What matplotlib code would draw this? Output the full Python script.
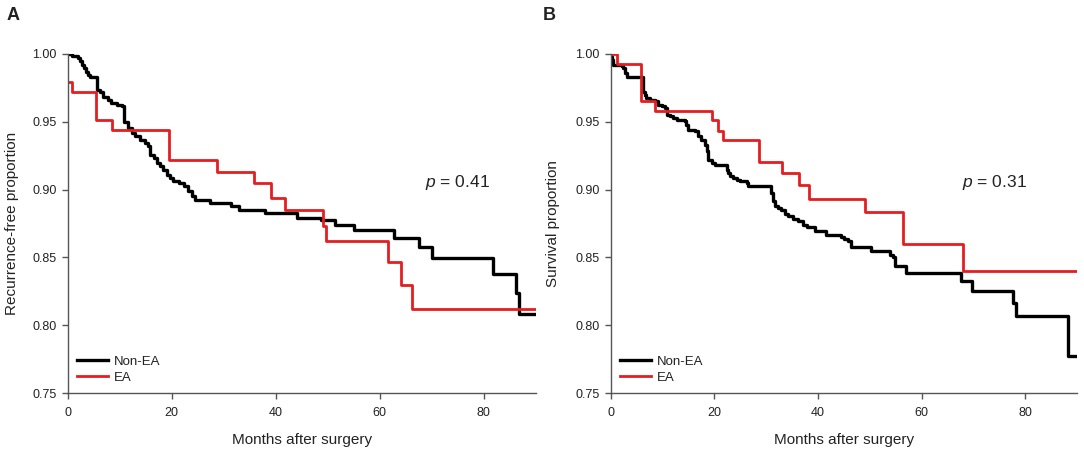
import matplotlib
matplotlib.use("Agg")
import matplotlib.pyplot as plt

plt.rcParams['font.family'] = ['Liberation Sans', 'DejaVu Sans']
plt.rcParams['mathtext.fontset'] = 'custom'
plt.rcParams['mathtext.it'] = 'Liberation Sans:italic'
plt.rcParams['mathtext.rm'] = 'Liberation Sans'

# panel A: recurrence-free
a_ea_t = [0, 0.8, 5.5, 8.5, 19.4, 28.7, 35.8, 39.1, 41.7, 49.0, 49.6, 61.5, 64.1, 66.2, 90]
a_ea_s = [0.979, 0.972, 0.951, 0.944, 0.922, 0.913, 0.905, 0.894, 0.885, 0.873, 0.862,
          0.847, 0.830, 0.812, 0.812]
a_non_t = [0, 0.9, 2.0, 2.4, 2.8, 3.1, 3.6, 3.9, 4.2, 5.7, 6.2, 6.8, 7.8, 8.4, 9.4, 10.4,
           10.9, 11.6, 12.3, 12.9, 13.9, 14.9, 15.5, 15.8, 16.5, 17.1, 17.8, 18.4, 19.1,
           19.7, 20.3, 21.3, 22.3, 23.2, 23.9, 24.5, 26.8, 27.4, 31.3, 32.9, 38.0, 44.1,
           48.6, 51.4, 55.0, 62.7, 67.6, 70.0, 81.8, 86.2, 86.7, 90]
a_non_s = [1.000, 0.9985, 0.9968, 0.995, 0.992, 0.9895, 0.987, 0.9846, 0.9828, 0.9735,
           0.9723, 0.9686, 0.966, 0.9637, 0.9625, 0.9613, 0.950, 0.9454, 0.9417, 0.9392,
           0.9368, 0.9343, 0.932, 0.9257, 0.9233, 0.9196, 0.9171, 0.9147, 0.911, 0.9086,
           0.9061, 0.905, 0.9024, 0.8988, 0.895, 0.8926, 0.892, 0.890, 0.8877, 0.8853,
           0.8829, 0.8792, 0.8775, 0.8743, 0.8706, 0.8645, 0.8576, 0.8498, 0.8382, 0.8235,
           0.8081, 0.8081]

# panel B: survival
b_ea_t = [0, 1.2, 5.8, 8.5, 19.5, 20.7, 21.7, 28.6, 33.0, 36.3, 38.3, 49.0, 56.4, 67.9, 90]
b_ea_s = [1.0, 0.9926, 0.965, 0.958, 0.9515, 0.9434, 0.9363, 0.920, 0.912, 0.9032,
          0.8934, 0.8836, 0.8596, 0.840, 0.840]
b_non_t = [0, 0.1, 0.3, 0.5, 2.1, 2.4, 2.8, 3.1, 6.2, 6.6, 6.9, 7.6, 8.5, 9.2, 9.8, 10.5,
           10.8, 11.4, 12.1, 12.7, 14.3, 14.6, 15.0, 16.2, 16.9, 17.5, 18.2, 18.5, 18.8,
           19.5, 20.1, 22.4, 22.7, 23.0, 23.6, 24.3, 24.9, 26.2, 26.5, 31.0, 31.3, 31.7,
           32.3, 32.9, 33.6, 34.2, 35.2, 36.1, 37.1, 37.8, 39.4, 41.6, 44.5, 45.1, 45.8,
           46.4, 50.3, 53.8, 54.5, 54.8, 57.0, 67.6, 69.7, 77.7, 78.2, 88.2, 90]
b_non_s = [1.0, 0.998, 0.9956, 0.992, 0.9914, 0.9895, 0.9858, 0.9833, 0.9723, 0.9699,
           0.9674, 0.9662, 0.965, 0.9625, 0.9613, 0.960, 0.955, 0.9539, 0.9527, 0.9515,
           0.9507, 0.9478, 0.944, 0.9429, 0.9392, 0.9368, 0.933, 0.9282, 0.922, 0.9196,
           0.9184, 0.9147, 0.9123, 0.9098, 0.9086, 0.9074, 0.9061, 0.905, 0.9024, 0.8976,
           0.8914, 0.8877, 0.8865, 0.8853, 0.882, 0.8804, 0.878, 0.8767, 0.8743, 0.8726,
           0.8693, 0.8669, 0.865, 0.8637, 0.862, 0.8578, 0.8546, 0.8515, 0.8505, 0.8436,
           0.8387, 0.8326, 0.8252, 0.8167, 0.8068, 0.7774, 0.7774]

RED = '#e41e20'
TXT = '#222222'
AX = '#555555'

fig = plt.figure(figsize=(10.84, 4.53), dpi=100)
ax_a = fig.add_axes([0.0625, 0.132, 0.4318, 0.749])
ax_b = fig.add_axes([0.5634, 0.132, 0.4303, 0.749])

panels = [
    (ax_a, a_non_t, a_non_s, a_ea_t, a_ea_s, 'Recurrence-free proportion', '0.41', 0.763, -0.105),
    (ax_b, b_non_t, b_non_s, b_ea_t, b_ea_s, 'Survival proportion', '0.31', 0.753, -0.109),
]

for ax, nt, ns, et, es, ylab, pval, px, ylx in panels:
    ax.step(nt, ns, where='post', color='black', lw=2.4, label='Non-EA')
    ax.step(et, es, where='post', color=RED, lw=2.0, label='EA')
    ax.set_xlim(0, 90)
    ax.set_ylim(0.75, 1.0)
    ax.set_xticks([0, 20, 40, 60, 80])
    ax.set_yticks([0.75, 0.80, 0.85, 0.90, 0.95, 1.00])
    ax.set_yticklabels(['%.2f' % v for v in [0.75, 0.80, 0.85, 0.90, 0.95, 1.00]])
    for s in ['top', 'right']:
        ax.spines[s].set_visible(False)
    for s in ['left', 'bottom']:
        ax.spines[s].set_color(AX)
        ax.spines[s].set_linewidth(1.0)
    ax.tick_params(direction='out', length=4, width=1.0, color=AX, labelsize=9,
                   labelcolor=TXT, pad=4)
    ax.tick_params(axis='x', pad=6)
    ax.set_ylabel(ylab, fontsize=11, color=TXT)
    ax.yaxis.set_label_coords(ylx, 0.5)
    ax.set_xlabel('Months after surgery', fontsize=11, color=TXT)
    ax.xaxis.set_label_coords(0.5, -0.118)
    ax.text(px, 0.62, r'$\it{p}$ = ' + pval, transform=ax.transAxes, fontsize=12.5,
            color=TXT, va='center', ha='left')
    ax.legend(loc='lower left', bbox_to_anchor=(0.019, 0.028), frameon=False,
              fontsize=9.5, handlelength=2.4, handletextpad=0.45, labelspacing=0.3,
              borderpad=0, borderaxespad=0, labelcolor=TXT)

fig.text(0.006, 0.965, 'A', fontsize=13, fontweight='bold', color=TXT, va='center')
fig.text(0.501, 0.965, 'B', fontsize=13, fontweight='bold', color=TXT, va='center')

fig.savefig('out.png', dpi=100)
